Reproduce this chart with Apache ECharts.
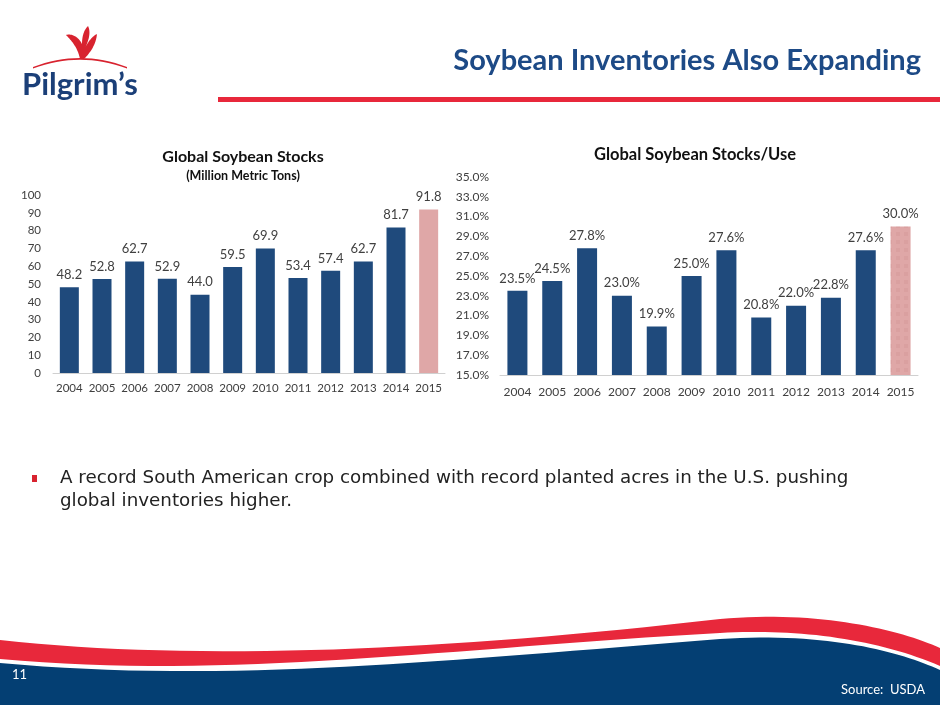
<!DOCTYPE html>
<html>
<head>
<meta charset="utf-8">
<script src="https://cdn.jsdelivr.net/npm/echarts@6/dist/echarts.min.js"></script>
<style>
  html, body { margin: 0; padding: 0; background: #fff; }
  #chart { width: 940px; height: 705px; }
</style>
</head>
<body>
<div id="chart"></div>
<script>
// data
var years = ["2004", "2005", "2006", "2007", "2008", "2009", "2010", "2011", "2012", "2013", "2014", "2015"];
var stocks = [48.2, 52.8, 62.7, 52.9, 44.0, 59.5, 69.9, 53.4, 57.4, 62.7, 81.7, 91.8];
var stocksUse = [23.5, 24.5, 27.8, 23.0, 19.9, 25.0, 27.6, 20.8, 22.0, 22.8, 27.6, 30.0];

var navy = "#1f4a7c";
var pink = "#dfa7a7";
var labelGrey = "#404040";

// last year is a forecast -> pink bar
function colorBars(values, decal) {
  return values.map(function (v, i) {
    if (i === values.length - 1) {
      var st = { color: pink };
      if (decal) {
        st.decal = { symbol: "rect", symbolSize: 1, dashArrayX: [4, 4], dashArrayY: [4, 4], color: "rgba(200,135,135,0.22)" };
      }
      return { value: v, itemStyle: st };
    }
    return { value: v, itemStyle: { color: navy } };
  });
}

// turn a tiny M/L/Q/C/Z path into polygon points (for the decorative shapes)
function pathPoints(d) {
  var tok = d.match(/[MLQCZ]|-?[\d.]+/g);
  var pts = [], i = 0, cmd, cx = 0, cy = 0, n = 16;
  while (i < tok.length) {
    if (/[MLQCZ]/.test(tok[i])) cmd = tok[i++];
    if (cmd === "Z") break;
    if (cmd === "M" || cmd === "L") {
      cx = +tok[i++]; cy = +tok[i++]; pts.push([cx, cy]);
    } else if (cmd === "Q") {
      var qx = +tok[i++], qy = +tok[i++], ex = +tok[i++], ey = +tok[i++];
      for (var k = 1; k <= n; k++) {
        var t = k / n, u = 1 - t;
        pts.push([u * u * cx + 2 * u * t * qx + t * t * ex, u * u * cy + 2 * u * t * qy + t * t * ey]);
      }
      cx = ex; cy = ey;
    } else if (cmd === "C") {
      var ax = +tok[i++], ay = +tok[i++], bx = +tok[i++], by = +tok[i++], ex2 = +tok[i++], ey2 = +tok[i++];
      for (var j = 1; j <= n * 2; j++) {
        var s = j / (n * 2), w = 1 - s;
        pts.push([
          w * w * w * cx + 3 * w * w * s * ax + 3 * w * s * s * bx + s * s * s * ex2,
          w * w * w * cy + 3 * w * w * s * ay + 3 * w * s * s * by + s * s * s * ey2
        ]);
      }
      cx = ex2; cy = ey2;
    }
  }
  return pts;
}

var myChart = echarts.init(document.getElementById("chart"));

var option = {
  animation: false,
  textStyle: { fontFamily: "Lato" },
  title: [
    {
      text: "Global Soybean Stocks",
      subtext: "(Million Metric Tons)",
      left: 238, top: 144, textAlign: "center", itemGap: 4,
      textStyle: { fontSize: 16, fontWeight: "bold", color: "#111" },
      subtextStyle: { fontSize: 12.5, fontWeight: "bold", color: "#111" }
    },
    {
      text: "Global Soybean Stocks/Use",
      left: 690, top: 141, textAlign: "center",
      textStyle: { fontSize: 16.5, fontWeight: "bold", color: "#111" }
    }
  ],
  grid: [
    { left: 53, right: 495, top: 195, bottom: 332 },
    { left: 500, right: 22, top: 177, bottom: 330 }
  ],
  xAxis: [
    {
      gridIndex: 0, type: "category", data: years,
      axisTick: { show: false },
      axisLine: { lineStyle: { color: "#d0d0d0" } },
      axisLabel: { color: labelGrey, fontSize: 11.5, margin: 9, interval: 0 }
    },
    {
      gridIndex: 1, type: "category", data: years,
      axisTick: { show: false },
      axisLine: { lineStyle: { color: "#d0d0d0" } },
      axisLabel: { color: labelGrey, fontSize: 12, margin: 11, interval: 0 }
    }
  ],
  yAxis: [
    {
      gridIndex: 0, type: "value", min: 0, max: 100, interval: 10,
      splitLine: { show: false },
      axisLabel: { color: labelGrey, fontSize: 11.5, margin: 12 }
    },
    {
      gridIndex: 1, type: "value", min: 15, max: 35, interval: 1,
      splitLine: { show: false },
      axisLabel: {
        color: labelGrey, fontSize: 12, margin: 11,
        formatter: function (v) { return (v - 15) % 2 === 0 ? v.toFixed(1) + "%" : ""; }
      }
    }
  ],
  series: [
    {
      type: "bar", xAxisIndex: 0, yAxisIndex: 0, barWidth: 19,
      data: colorBars(stocks, false),
      label: {
        show: true, position: "top", distance: 6, color: labelGrey, fontSize: 13,
        formatter: function (p) { return p.value.toFixed(1); }
      }
    },
    {
      type: "bar", xAxisIndex: 1, yAxisIndex: 1, barWidth: 20,
      data: colorBars(stocksUse, true),
      label: {
        show: true, position: "top", distance: 6, color: labelGrey, fontSize: 13,
        formatter: function (p) { return p.value.toFixed(1) + "%"; }
      }
    }
  ],
  graphic: [
    // header
    {
      type: "text", right: 19, top: 46,
      style: { text: "Soybean Inventories Also Expanding", fill: "#1d4a86", font: "bold 29px Lato" }
    },
    { type: "rect", shape: { x: 218, y: 97, width: 722, height: 5 }, style: { fill: "#e8283b" } },
    // logo
    {
      type: "polygon",
      shape: { points: pathPoints("M33 67 Q80 49 127 67 L127 68.5 Q80 51 33 68.5 Z") },
      style: { fill: "#d8232f" }
    },
    {
      type: "polygon",
      shape: { points: pathPoints("M80 59 C78 49 73 42 66 35 C73 33 79 38 82 44 C82 36 84 30 88 26 C91 32 89 40 85 48 C89 40 93 36 97 34 C96 44 91 52 84 59 Z") },
      style: { fill: "#d8232f" }
    },
    {
      type: "text", left: 22, top: 69,
      style: { text: "Pilgrim\u2019s", fill: "#1b3f78", font: "bold 31px Lato" }
    },
    // bullet
    { type: "rect", shape: { x: 32, y: 475, width: 5, height: 7 }, style: { fill: "#d8232f" } },
    {
      type: "text", left: 60, top: 467,
      style: {
        text: "A record South American crop combined with record planted acres in the U.S. pushing\nglobal inventories higher.",
        fill: "#222", font: "18.3px 'DejaVu Sans'", lineHeight: 23
      }
    },
    // footer waves
    {
      type: "polygon",
      shape: { points: pathPoints("M0 640 C200 662 450 650 720 619 C820 610 900 630 940 648 L940 666 C880 640 800 628 720 633 C450 648 230 680 0 659 Z") },
      style: { fill: "#e8283b" }
    },
    {
      type: "polygon",
      shape: { points: pathPoints("M0 663 C230 684 450 660 720 639 C830 632 900 652 940 670 L940 705 L0 705 Z") },
      style: { fill: "#043f73" }
    },
    { type: "text", left: 12, top: 668, style: { text: "11", fill: "#fff", font: "13px Lato" } },
    { type: "text", right: 15, top: 683, style: { text: "Source:  USDA", fill: "#fff", font: "13px Lato" } }
  ]
};

myChart.setOption(option);
</script>
</body>
</html>
